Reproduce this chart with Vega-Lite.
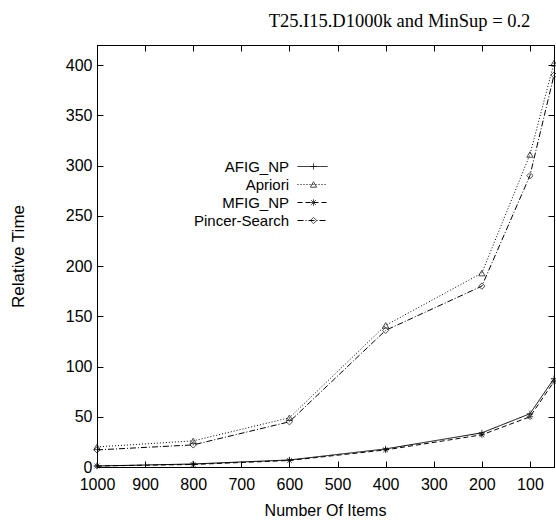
{
  "$schema": "https://vega.github.io/schema/vega-lite/v6.json",
  "width": 457,
  "height": 422,
  "autosize": {"type": "none"},
  "padding": {"left": 97, "top": 45, "right": 2, "bottom": 53},
  "background": "white",
  "title": {"text": "T25.I15.D1000k and MinSup = 0.2", "font": "Liberation Serif", "fontSize": 18.5, "fontWeight": "normal", "anchor": "middle", "dx": 74, "offset": 14, "color": "black"},
  "config": {
    "view": {"stroke": "black", "strokeWidth": 1},
    "axis": {"grid": false, "domainColor": "black", "tickColor": "black", "labelColor": "black", "titleColor": "black", "labelFont": "Liberation Sans", "titleFont": "Liberation Sans", "labelFontSize": 16, "titleFontSize": 16, "titleFontWeight": "normal", "tickSize": -6, "labelPadding": 11, "labelOverlap": false, "labelFlush": false, "labelBound": false}
  },
  "data": {"values": [
    {"algo": "AFIG_NP", "items": 1000, "time": 1},
    {"algo": "AFIG_NP", "items": 800, "time": 3},
    {"algo": "AFIG_NP", "items": 600, "time": 7},
    {"algo": "AFIG_NP", "items": 400, "time": 18},
    {"algo": "AFIG_NP", "items": 200, "time": 34},
    {"algo": "AFIG_NP", "items": 100, "time": 53},
    {"algo": "AFIG_NP", "items": 50, "time": 88},
    {"algo": "Apriori", "items": 1000, "time": 20},
    {"algo": "Apriori", "items": 800, "time": 26},
    {"algo": "Apriori", "items": 600, "time": 49},
    {"algo": "Apriori", "items": 400, "time": 141},
    {"algo": "Apriori", "items": 200, "time": 193},
    {"algo": "Apriori", "items": 100, "time": 311},
    {"algo": "Apriori", "items": 50, "time": 402},
    {"algo": "MFIG_NP", "items": 1000, "time": 1},
    {"algo": "MFIG_NP", "items": 800, "time": 2.5},
    {"algo": "MFIG_NP", "items": 600, "time": 6.5},
    {"algo": "MFIG_NP", "items": 400, "time": 17},
    {"algo": "MFIG_NP", "items": 200, "time": 32},
    {"algo": "MFIG_NP", "items": 100, "time": 50},
    {"algo": "MFIG_NP", "items": 50, "time": 85},
    {"algo": "Pincer-Search", "items": 1000, "time": 17},
    {"algo": "Pincer-Search", "items": 800, "time": 22},
    {"algo": "Pincer-Search", "items": 600, "time": 45},
    {"algo": "Pincer-Search", "items": 400, "time": 136},
    {"algo": "Pincer-Search", "items": 200, "time": 180},
    {"algo": "Pincer-Search", "items": 100, "time": 290},
    {"algo": "Pincer-Search", "items": 50, "time": 390}
  ]},
  "layer": [
    {
      "mark": {"type": "line", "strokeWidth": 1, "color": "black"},
      "encoding": {
        "x": {"field": "items", "type": "quantitative", "scale": {"domain": [50, 1000], "reverse": true, "nice": false, "zero": false},
              "axis": {"orient": "bottom", "format": "d", "labelPadding": 15, "values": [100, 200, 300, 400, 500, 600, 700, 800, 900, 1000], "title": "Number Of Items", "titleX": 228, "titleY": 43, "titleBaseline": "middle", "titleAlign": "center"}},
        "y": {"field": "time", "type": "quantitative", "scale": {"domain": [0, 420], "nice": false},
              "axis": {"orient": "left", "values": [0, 50, 100, 150, 200, 250, 300, 350, 400], "title": "Relative Time", "titleX": -79, "titleY": 211, "titleAngle": -90, "titleBaseline": "middle", "titleAlign": "center", "titleFontSize": 17}},
        "strokeDash": {"field": "algo", "type": "nominal",
          "scale": {"domain": ["AFIG_NP", "Apriori", "MFIG_NP", "Pincer-Search"], "range": [[1, 0], [1, 2], [5, 3], [6, 2, 1, 2]]},
          "legend": {"orient": "none", "legendX": 208, "legendY": 114, "title": null, "symbolType": "M-3,0H3", "symbolSize": 100, "symbolStrokeColor": "black", "symbolStrokeWidth": 1, "labelAlign": "right", "labelOffset": -31, "labelFont": "Liberation Sans", "labelFontSize": 15, "labelColor": "black", "rowPadding": 2, "padding": 0}}
      }
    },
    {
      "mark": {"type": "point", "filled": false, "color": "black", "strokeWidth": 1, "size": 40},
      "encoding": {
        "x": {"field": "items", "type": "quantitative", "axis": {"orient": "top", "labels": false, "title": null, "values": [100, 200, 300, 400, 500, 600, 700, 800, 900, 1000]}},
        "y": {"field": "time", "type": "quantitative", "axis": {"orient": "right", "labels": false, "title": null, "values": [0, 50, 100, 150, 200, 250, 300, 350, 400]}},
        "shape": {"field": "algo", "type": "nominal",
          "scale": {"range": ["M-1,0H1M0,-1V1", "triangle-up", "M-1,0H1M0,-1V1M-0.75,-0.75L0.75,0.75M-0.75,0.75L0.75,-0.75", "diamond"]},
          "legend": {"orient": "none", "legendX": 209, "legendY": 114, "title": null, "symbolSize": 40, "symbolStrokeColor": "black", "symbolFillColor": "transparent", "symbolStrokeWidth": 1, "labelOpacity": 0, "labelFont": "Liberation Sans", "labelFontSize": 15, "rowPadding": 2, "padding": 0}}
      }
    }
  ]
}
